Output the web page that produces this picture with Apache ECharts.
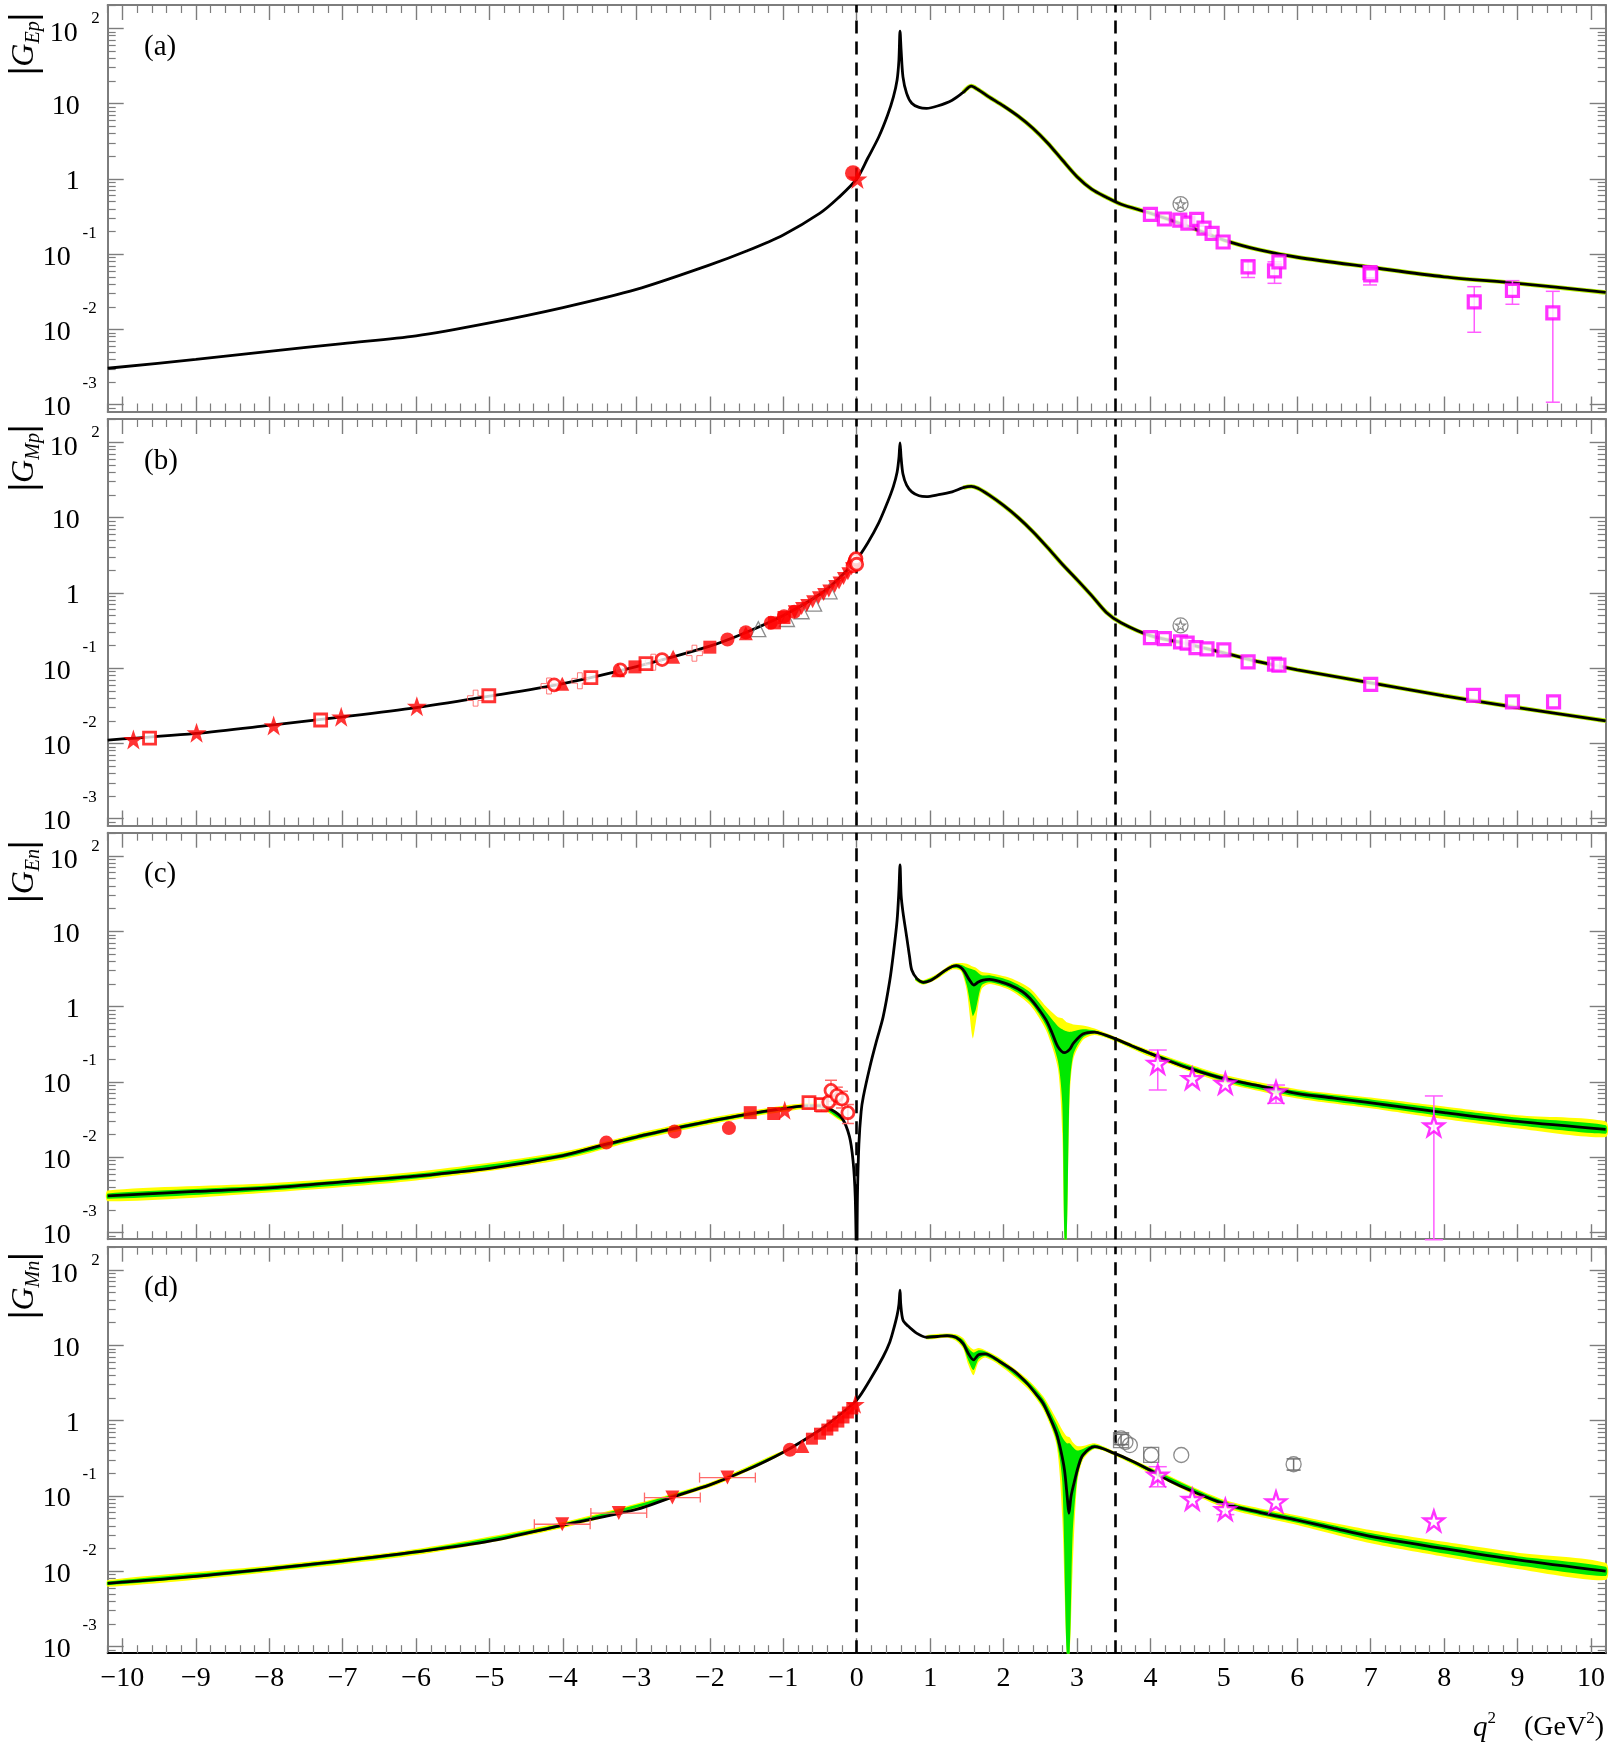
<!DOCTYPE html>
<html>
<head>
<meta charset="utf-8">
<script src="https://cdn.jsdelivr.net/npm/echarts@6/dist/echarts.min.js"></script>
<style>
    html, body { margin: 0; padding: 0; background: #fff; }
    #chart { width: 1611px; height: 1745px; }
</style>
</head>
<body>
<div id="chart"></div>
<script>
var X_MIN = -10.2, X_MAX = 10.2, Y_MIN = -3.09, Y_MAX = 2.31;
var thresholds = [0, 3.52];
var panelLetters = ['(a)', '(b)', '(c)', '(d)'];
var panelSubs = ['Ep', 'Mp', 'En', 'Mn'];
var decades = [-3, -2, -1, 0, 1, 2];

// ---- (a) |G_Ep|
var aCurveX = [-10.2, -9, -8, -7, -6, -5, -4, -3, -2, -1.5, -1, -0.5, -0.25, 0, 0.15, 0.3, 0.42, 0.5, 0.55, 0.575, 0.59, 0.605, 0.63, 0.68, 0.75, 0.85, 0.95, 1.1, 1.3, 1.45, 1.56, 1.65, 1.8, 2.0, 2.2, 2.4, 2.6, 2.8, 3.0, 3.2, 3.4, 3.6, 4.0, 4.5, 5.0, 5.5, 6, 7, 8, 9, 10.2];
var aCurveY = [0.00305, 0.0040, 0.0051, 0.0065, 0.0082, 0.0122, 0.0195, 0.034, 0.072, 0.11, 0.18, 0.35, 0.56, 1.0, 1.88, 3.6, 7.0, 12.3, 20.6, 38, 92, 51, 22.7, 13.7, 10.1, 8.9, 8.65, 9.3, 11.1, 14.1, 17.1, 15.4, 12.3, 9.3, 6.8, 4.7, 3.0, 1.78, 1.07, 0.73, 0.57, 0.46, 0.35, 0.237, 0.154, 0.113, 0.091, 0.067, 0.050, 0.041, 0.031];
var aSqX = [4.00, 4.19, 4.40, 4.51, 4.63, 4.73, 4.84, 4.99, 5.33, 5.69, 5.75, 6.99, 7.00, 8.41, 8.93, 9.48];
var aSqY = [0.338, 0.293, 0.284, 0.259, 0.290, 0.222, 0.189, 0.145, 0.068, 0.060, 0.079, 0.057, 0.053, 0.0232, 0.0331, 0.0166];
var aErrX = [5.33, 5.69, 6.99, 8.41, 8.93, 9.48];
var aErrLo = [0.049, 0.041, 0.039, 0.00917, 0.0216, 0.00108];
var aErrHi = [0.0836, 0.079, 0.068, 0.037, 0.0445, 0.0321];
var aRedCircX = [-0.05], aRedCircY = [1.19];
var aRedStarX = [0.01], aRedStarY = [1.0];
var aGreyX = [4.41], aGreyY = [0.463];

// ---- (b) |G_Mp|
var bCurveX = [-10.2, -9, -8, -7, -6, -5, -4, -3, -2, -1.5, -1, -0.5, -0.25, 0, 0.15, 0.3, 0.42, 0.5, 0.55, 0.575, 0.59, 0.605, 0.63, 0.68, 0.75, 0.85, 0.95, 1.1, 1.3, 1.45, 1.56, 1.65, 1.8, 2.0, 2.2, 2.4, 2.6, 2.8, 3.0, 3.2, 3.4, 3.6, 4.0, 4.5, 5.0, 5.5, 6, 7, 8, 9, 10.2];
var bCurveY = [0.0111, 0.0136, 0.0174, 0.0226, 0.0300, 0.0425, 0.0625, 0.105, 0.196, 0.30, 0.50, 0.96, 1.53, 2.79, 4.6, 8.5, 16, 26, 40, 62, 98, 62, 38, 27, 22, 19.5, 19, 20, 22, 25, 26, 24.5, 20, 14.5, 10, 6.5, 4.0, 2.4, 1.5, 0.92, 0.55, 0.40, 0.27, 0.21, 0.16, 0.12, 0.095, 0.064, 0.043, 0.030, 0.020];
var bSqX = [4.0, 4.19, 4.41, 4.50, 4.62, 4.77, 5.0, 5.33, 5.69, 5.75, 7.0, 8.40, 8.93, 9.49];
var bSqY = [0.255, 0.247, 0.223, 0.215, 0.188, 0.18, 0.175, 0.121, 0.113, 0.11, 0.061, 0.0435, 0.0356, 0.0356];
var bGreyX = [4.41], bGreyY = [0.37];
var bStarX = [-9.85, -8.99, -7.94, -7.02, -5.99], bStarY = [0.0113, 0.0139, 0.0173, 0.0226, 0.0313];
var bOpenSqX = [-9.63, -7.30, -5.01, -3.62, -2.87], bOpenSqY = [0.0118, 0.0205, 0.043, 0.075, 0.115];
var bCrossX = [-5.19, -4.19, -3.77, -2.77, -2.21], bCrossY = [0.040, 0.058, 0.068, 0.12, 0.158];
var bOpenCircX = [-4.12, -3.22, -2.65], bOpenCircY = [0.060, 0.095, 0.130];
var bTriX = [-4.01, -3.25, -2.5, -1.51], bTriY = [0.062, 0.094, 0.142, 0.29];
var bFillSqX = [-3.02, -2.0, -1.12, -0.99], bFillSqY = [0.104, 0.19, 0.40, 0.47];
var bFillCircX = [-1.76, -1.51, -1.17, -0.99, -0.85], bFillCircY = [0.24, 0.30, 0.40, 0.49, 0.56];
var bGreyTriX = [-1.34, -0.95, -0.75, -0.58, -0.37], bGreyTriY = [0.33, 0.45, 0.57, 0.72, 1.05];
var bInvTriX = [-0.85, -0.75, -0.68, -0.6, -0.52, -0.45, -0.38, -0.3, -0.24, -0.18, -0.12, -0.07];
var bInvTriY = [0.56, 0.62, 0.68, 0.76, 0.86, 0.95, 1.06, 1.22, 1.35, 1.55, 1.8, 2.1];
var bRingX = [-0.05, -0.03, -0.02, -0.01, 0.0], bRingY = [2.3, 2.5, 2.7, 2.85, 2.4];

// ---- (c) |G_En|
var cCurveX = [-10.2, -9, -8, -7, -6, -5, -4, -3.4, -3, -2.5, -2, -1.5, -1, -0.7, -0.5, -0.35, -0.2, -0.1, -0.05, -0.02, 0, 0.01, 0.03, 0.06, 0.09, 0.18, 0.27, 0.36, 0.45, 0.5, 0.55, 0.575, 0.59, 0.605, 0.63, 0.68, 0.72, 0.75, 0.82, 0.906, 1.0, 1.09, 1.2, 1.3, 1.36, 1.42, 1.47, 1.53, 1.596, 1.65, 1.72, 1.81, 1.95, 2.09, 2.25, 2.36, 2.47, 2.58, 2.66, 2.74, 2.83, 2.9, 2.95, 3.08, 3.24, 3.38, 3.51, 3.75, 3.99, 4.25, 4.53, 4.99, 5.5, 5.99, 6.5, 6.98, 8, 9, 10.2];
var cCurveY = [0.00305, 0.0035, 0.0039, 0.0047, 0.0056, 0.0071, 0.0105, 0.0150, 0.0185, 0.024, 0.030, 0.037, 0.044, 0.048, 0.048, 0.043, 0.033, 0.019, 0.009, 0.003, 0.0003, 0.003, 0.015, 0.04, 0.0635, 0.159, 0.35, 0.73, 2.2, 5.1, 14, 35, 76, 30, 18, 8.5, 4.6, 3.06, 2.35, 2.1, 2.2, 2.5, 3.0, 3.4, 3.5, 3.3, 2.9, 2.3, 1.93, 2.1, 2.25, 2.3, 2.15, 1.93, 1.6, 1.29, 0.95, 0.66, 0.45, 0.293, 0.244, 0.27, 0.325, 0.433, 0.459, 0.42, 0.378, 0.3, 0.24, 0.19, 0.151, 0.111, 0.088, 0.0705, 0.061, 0.0529, 0.039, 0.0298, 0.0234];
var cBandX = [-10.2, -8, -6, -4, -3, -2, -1, -0.5, -0.2, 0.8, 0.906, 1.09, 1.3, 1.42, 1.5, 1.58, 1.62, 1.7, 1.81, 2.09, 2.36, 2.58, 2.74, 2.8, 2.83, 2.86, 2.9, 2.95, 3.08, 3.24, 3.51, 4.0, 5.0, 6.0, 7.0, 8.0, 9.0, 10.2];
var cYelLo = [0.0026, 0.0034, 0.0049, 0.0093, 0.0166, 0.0272, 0.040, 0.044, 0.030, 2.2, 1.95, 2.3, 3.1, 2.95, 1.6, 0.38, 0.6, 1.7, 2.0, 1.65, 1.05, 0.48, 0.15, 0.02, 1e-5, 1e-5, 0.06, 0.2, 0.36, 0.42, 0.35, 0.215, 0.097, 0.060, 0.0445, 0.032, 0.024, 0.0185];
var cGrnLo = [0.0028, 0.0036, 0.0052, 0.0098, 0.0174, 0.0284, 0.042, 0.046, 0.031, 2.25, 2.0, 2.4, 3.25, 3.1, 1.9, 0.75, 0.9, 1.9, 2.1, 1.75, 1.15, 0.55, 0.19, 0.05, 1e-5, 1e-5, 0.08, 0.23, 0.39, 0.44, 0.36, 0.225, 0.102, 0.064, 0.0475, 0.035, 0.0265, 0.0205];
var cGrnHi = [0.0033, 0.0042, 0.0060, 0.0112, 0.0196, 0.0316, 0.046, 0.050, 0.035, 2.45, 2.2, 2.6, 3.55, 3.6, 3.3, 3.1, 3.0, 2.6, 2.6, 2.2, 1.55, 0.85, 0.55, 0.5, 0.48, 0.47, 0.46, 0.47, 0.5, 0.48, 0.39, 0.25, 0.118, 0.076, 0.0585, 0.044, 0.0335, 0.0265];
var cYelHi = [0.0036, 0.0045, 0.0064, 0.0118, 0.0205, 0.0330, 0.048, 0.052, 0.036, 2.5, 2.25, 2.7, 3.7, 3.8, 3.7, 3.4, 3.3, 2.9, 2.8, 2.4, 1.75, 1.0, 0.72, 0.7, 0.66, 0.62, 0.6, 0.58, 0.56, 0.51, 0.40, 0.26, 0.124, 0.080, 0.062, 0.047, 0.036, 0.0298];
var cStarX = [4.10, 4.57, 5.02, 5.71, 7.86], cStarY = [0.177, 0.111, 0.0955, 0.074, 0.026];
var cStarErrX = [4.10, 5.71, 7.86], cStarErrLo = [0.078, 0.0519, 0.0008], cStarErrHi = [0.265, 0.0908, 0.065];
var cRedCircX = [-3.41, -2.48, -1.74], cRedCircY = [0.0156, 0.0219, 0.0243];
var cRedSqX = [-1.45, -1.13], cRedSqY = [0.039, 0.038];
var cRedStarX = [-0.98], cRedStarY = [0.042];
var cRedOpenSqX = [-0.65, -0.48], cRedOpenSqY = [0.053, 0.05];
var cRedRingX = [-0.38, -0.35, -0.27, -0.2, -0.12], cRedRingY = [0.054, 0.077, 0.066, 0.059, 0.039];
var cRedErrX = [-0.65, -0.48, -0.35, -0.27, -0.2, -0.12];
var cRedErrLo = [0.045, 0.04, 0.055, 0.05, 0.045, 0.028];
var cRedErrHi = [0.062, 0.06, 0.105, 0.085, 0.075, 0.05];

// ---- (d) |G_Mn|
var dCurveX = [-10.2, -9, -8, -7, -6, -5, -4, -3, -2.5, -2, -1.5, -1, -0.5, -0.25, 0, 0.18, 0.36, 0.45, 0.5, 0.55, 0.575, 0.59, 0.6, 0.63, 0.7, 0.82, 0.95, 1.1, 1.23, 1.35, 1.45, 1.52, 1.59, 1.66, 1.75, 1.95, 2.15, 2.32, 2.45, 2.54, 2.63, 2.72, 2.78, 2.83, 2.87, 2.89, 2.92, 2.97, 3.02, 3.08, 3.24, 3.51, 3.75, 3.99, 4.25, 4.53, 4.99, 5.5, 5.99, 6.5, 6.98, 8, 9, 10.2];
var dCurveY = [0.0069, 0.0085, 0.0107, 0.0137, 0.018, 0.025, 0.041, 0.066, 0.097, 0.14, 0.22, 0.38, 0.75, 1.15, 1.87, 3.46, 7.05, 11, 16, 25, 35, 54, 35, 21.7, 18, 14.4, 12.8, 13.1, 13.4, 12.8, 10.5, 7.8, 6.4, 7.5, 7.7, 6.05, 4.5, 3.12, 2.2, 1.69, 1.1, 0.68, 0.4, 0.22, 0.09, 0.0586, 0.1, 0.163, 0.25, 0.349, 0.45, 0.367, 0.29, 0.22, 0.16, 0.12, 0.0796, 0.06, 0.0478, 0.037, 0.0293, 0.0199, 0.0141, 0.0100];
var dBandX = [-10.2, -8, -6, -4, -2, -1, 0.95, 1.23, 1.35, 1.45, 1.52, 1.59, 1.66, 1.75, 1.95, 2.32, 2.54, 2.72, 2.8, 2.86, 2.9, 2.94, 3.0, 3.08, 3.24, 3.51, 4.0, 5.0, 6.0, 7.0, 8.0, 9.0, 10.2];
var dYelLo = [0.0062, 0.0097, 0.0164, 0.0375, 0.13, 0.36, 12, 12.6, 11.5, 9, 5.5, 4.0, 6.0, 6.9, 5.4, 2.7, 1.4, 0.48, 0.05, 1e-5, 1e-5, 0.01, 0.14, 0.3, 0.42, 0.345, 0.2, 0.07, 0.041, 0.0234, 0.0155, 0.0107, 0.0076];
var dGrnLo = [0.0065, 0.0101, 0.0171, 0.039, 0.135, 0.37, 12.3, 13, 12, 9.6, 6.3, 4.7, 6.6, 7.2, 5.7, 2.9, 1.5, 0.55, 0.15, 1e-5, 1e-5, 0.03, 0.16, 0.32, 0.43, 0.355, 0.208, 0.074, 0.044, 0.026, 0.0172, 0.012, 0.0086];
var dGrnHi = [0.0073, 0.0113, 0.0189, 0.043, 0.146, 0.39, 13.3, 13.9, 13.5, 11.8, 9.2, 8.0, 8.6, 8.3, 6.5, 3.4, 1.95, 0.9, 0.6, 0.5, 0.5, 0.45, 0.4, 0.42, 0.48, 0.38, 0.232, 0.085, 0.052, 0.032, 0.0222, 0.0158, 0.0114];
var dYelHi = [0.0076, 0.0118, 0.0197, 0.045, 0.151, 0.40, 13.6, 14.3, 14, 12.5, 10, 8.8, 9.2, 8.6, 6.8, 3.6, 2.1, 1.05, 0.75, 0.62, 0.6, 0.52, 0.46, 0.46, 0.5, 0.39, 0.24, 0.089, 0.055, 0.0352, 0.0245, 0.0176, 0.0129];
var dStarX = [4.10, 4.57, 5.02, 5.71, 7.86], dStarY = [0.189, 0.09, 0.066, 0.0836, 0.0466];
var dStarErrX = [4.10, 5.02], dStarErrLo = [0.132, 0.0563], dStarErrHi = [0.244, 0.078];
var dGreyCircX = [3.6, 3.66, 3.72, 4.01, 4.42, 5.95], dGreyCircY = [0.58, 0.52, 0.473, 0.349, 0.349, 0.263];
var dGreySqX = [3.6, 4.01], dGreySqY = [0.55, 0.35];
var dGreyErrX = [3.6, 5.95], dGreyErrLo = [0.48, 0.22], dGreyErrHi = [0.66, 0.31];
var dInvTriX = [-4.01, -3.24, -2.51, -1.76], dInvTriY = [0.042, 0.059, 0.095, 0.175], dInvTriDx = [0.38, 0.38, 0.38, 0.38];
var dRedCircX = [-0.91], dRedCircY = [0.41];
var dRedTriX = [-0.74], dRedTriY = [0.46];
var dRedSqX = [-0.61, -0.5, -0.4, -0.33, -0.25, -0.18, -0.12, -0.06], dRedSqY = [0.575, 0.67, 0.76, 0.86, 0.97, 1.1, 1.28, 1.45];
var dRedStarX = [-0.02], dRedStarY = [1.65];

// ---- look
var SERIF = '"Liberation Serif", "Times New Roman", serif';
var FRAME = '#7d7d7d';
var RED = '#ff0000', RED_BAR = '#ff6a6a';
var MAG = '#ff00ff', MAG_BAR = '#ff5cff';
var GREY = '#6f6f6f';
var YELLOW = '#ffff00', GREEN = '#00e800';
var GRID_LEFT = 107.7, GRID_W = 1498, GRID_H = 406.5;
var GRID_TOPS = [5, 419, 832.7, 1246.7];
var STAR = 'path://M50,2 L61.8,36.2 L97.6,36.2 L68.6,57.3 L79.4,91.5 L50,70.4 L20.6,91.5 L31.4,57.3 L2.4,36.2 L38.2,36.2 Z';
var CROSS = 'path://M35,0 H65 V35 H100 V65 H65 V100 H35 V65 H0 V35 H35 Z';

var majorX = [], minorX = [], minorY = [];
for (var i = -10; i <= 10; i++) majorX.push(i);
for (var k = -51; k <= 51; k++) if (k % 5 !== 0) minorX.push(+(k * 0.2).toFixed(1));
for (var n = -4; n <= 2; n++) {
    for (var m = 2; m <= 9; m++) {
        var v = n + Math.log10(m);
        if (v > Y_MIN && v < Y_MAX) minorY.push(v);
    }
}

function lg(v) { return Math.max(Math.log10(v), Y_MIN - 0.4); }
function lgBand(v) { return Math.min(Math.max(Math.log10(v), Y_MIN), Y_MAX); }
function pairs(xs, ys) { return xs.map(function (x, i) { return [x, lg(ys[i])]; }); }

// exponent sits on a first (thin) line, mantissa on the second
var yRich = {
    c: {fontFamily: SERIF, fontSize: 28, lineHeight: 28, padding: [6, 20, 0, 0], color: '#000'},
    n: {fontFamily: SERIF, fontSize: 28, lineHeight: 42, padding: [0, 29, 0, 0], color: '#000'},
    s: {fontFamily: SERIF, fontSize: 17, lineHeight: 6, padding: [0, 3, 0, 0], color: '#000'},
    p: {fontFamily: SERIF, fontSize: 28, lineHeight: 20, padding: [0, 22, 0, 0], color: '#000'},
    t: {fontFamily: SERIF, fontSize: 17, lineHeight: 10, color: '#000'}
};
function yLabel(v) {
    var d = Math.round(v);
    if (d === 2) return '{t|2}\n{p|10}';
    if (d === 1) return '{c|10}';
    if (d === 0) return '{c|1}';
    return '{s|' + d + '}\n{n|10}';
}

var xAxes = [], yAxes = [], grids = [], series = [], graphics = [];

GRID_TOPS.forEach(function (top, p) {
    grids.push({left: GRID_LEFT, top: top, width: GRID_W, height: GRID_H});
    ['bottom', 'top'].forEach(function (pos) {
        xAxes.push({
            type: 'value', gridIndex: p, position: pos, min: X_MIN, max: X_MAX,
            axisLine: {show: true, onZero: false, lineStyle: {color: (p === 3 && pos === 'bottom') ? '#000' : FRAME, width: 2}},
            axisTick: {show: true, inside: true, length: 15, customValues: majorX, lineStyle: {color: FRAME, width: 1.4}},
            axisLabel: {
                show: p === 3 && pos === 'bottom', customValues: majorX, margin: 11,
                fontFamily: SERIF, fontSize: 28, color: '#000',
                formatter: function (v) { return v < 0 ? '\u2212' + Math.abs(v) : String(v); }
            },
            splitLine: {show: false}
        });
    });
    ['bottom', 'top'].forEach(function (pos) {
        xAxes.push({
            type: 'value', gridIndex: p, position: pos, min: X_MIN, max: X_MAX,
            axisLine: {show: false, onZero: false},
            axisTick: {show: true, inside: true, length: 8, customValues: minorX, lineStyle: {color: FRAME, width: 1.2}},
            axisLabel: {show: false}, splitLine: {show: false}
        });
    });
    ['left', 'right'].forEach(function (pos) {
        yAxes.push({
            type: 'value', gridIndex: p, position: pos, min: Y_MIN, max: Y_MAX,
            axisLine: {show: true, onZero: false, lineStyle: {color: FRAME, width: 2}},
            axisTick: {show: true, inside: true, length: 16, customValues: decades, lineStyle: {color: FRAME, width: 1.4}},
            axisLabel: {show: pos === 'left', customValues: decades, margin: 8, formatter: yLabel, rich: yRich},
            splitLine: {show: false}
        });
    });
    ['left', 'right'].forEach(function (pos) {
        yAxes.push({
            type: 'value', gridIndex: p, position: pos, min: Y_MIN, max: Y_MAX,
            axisLine: {show: false, onZero: false},
            axisTick: {show: true, inside: true, length: 8, customValues: minorY, lineStyle: {color: FRAME, width: 1.2}},
            axisLabel: {show: false}, splitLine: {show: false}
        });
    });

    graphics.push({
        type: 'text', x: 25, y: top + 39, rotation: Math.PI / 2, silent: true,
        style: {
            text: '{b||}{g|G}{u|' + panelSubs[p] + '}{b||}', align: 'center', verticalAlign: 'middle', fill: '#000',
            rich: {
                b: {fontFamily: SERIF, fontSize: 38, fontWeight: 'bold', lineHeight: 38},
                g: {fontFamily: SERIF, fontSize: 32, fontStyle: 'italic'},
                u: {fontFamily: SERIF, fontSize: 20, fontStyle: 'italic', lineHeight: 20, verticalAlign: 'bottom'}
            }
        }
    });
    graphics.push({
        type: 'text', x: 144, y: top + 42, silent: true,
        style: {text: panelLetters[p], fontFamily: SERIF, fontSize: 29, fill: '#000', verticalAlign: 'middle'}
    });
});

graphics.push({
    type: 'text', x: 1604, y: 1724, silent: true,
    style: {
        text: '{q|q}{e|2}{m|    (GeV}{e|2}{m|)}', align: 'right', verticalAlign: 'middle', fill: '#000',
        rich: {
            q: {fontFamily: SERIF, fontSize: 29, fontStyle: 'italic', lineHeight: 28, padding: [8, 0, 0, 0]},
            e: {fontFamily: SERIF, fontSize: 17, lineHeight: 17, verticalAlign: 'top'},
            m: {fontFamily: SERIF, fontSize: 28, lineHeight: 28, padding: [8, 0, 0, 0]}
        }
    }
});

function withAxes(p, obj) { obj.xAxisIndex = 4 * p; obj.yAxisIndex = 4 * p; return obj; }

// uncertainty band: a polygon through the upper edge and back along the lower edge
function addBand(p, xs, lo, hi, color) {
    [function (x) { return x < 0; }, function (x) { return x > 0; }].forEach(function (side) {
        var rows = [];
        xs.forEach(function (x, i) { if (side(x)) rows.push([x, lgBand(lo[i]), lgBand(hi[i])]); });
        series.push(withAxes(p, {
            type: 'custom', silent: true, z: 1, data: rows, encode: {x: 0, y: [1, 2]},
            renderItem: function (params, api) {
                if (params.dataIndex !== 0) return null;
                var up = rows.map(function (r) { return api.coord([r[0], r[2]]); });
                var dn = rows.map(function (r) { return api.coord([r[0], r[1]]); }).reverse();
                return {type: 'polygon', shape: {points: up.concat(dn), smooth: 0.25}, style: {fill: color}};
            }
        }));
    });
}

function addCurve(p, xs, ys, edge) {
    if (edge) {
        var sel = xs.map(function (x, i) { return i; }).filter(function (i) { return xs[i] >= 1.4; });
        series.push(withAxes(p, {
            type: 'line', silent: true, z: 3, smooth: 0.3, showSymbol: false,
            data: sel.map(function (i) { return [xs[i], lg(ys[i])]; }),
            lineStyle: {color: '#b8f000', width: 4.4}
        }));
    }
    series.push(withAxes(p, {
        type: 'line', silent: true, z: 4, smooth: 0.3, showSymbol: false,
        data: pairs(xs, ys),
        lineStyle: {color: '#000', width: 2.8},
        markLine: {
            silent: true, symbol: ['none', 'none'], label: {show: false}, animation: false,
            lineStyle: {color: '#000', type: [13, 8], width: 2.6},
            data: thresholds.map(function (t) { return {xAxis: t}; })
        }
    }));
}

function addErr(p, xs, lo, hi, color, cap) {
    series.push(withAxes(p, {
        type: 'custom', silent: true, z: 6,
        data: xs.map(function (x, i) { return [x, lg(lo[i]), lg(hi[i])]; }),
        encode: {x: 0, y: [1, 2]},
        renderItem: function (params, api) {
            var a = api.coord([api.value(0), api.value(2)]);
            var b = api.coord([api.value(0), api.value(1)]);
            var st = {stroke: color, lineWidth: 1.5};
            return {type: 'group', children: [
                {type: 'line', shape: {x1: a[0], y1: a[1], x2: b[0], y2: b[1]}, style: st},
                {type: 'line', shape: {x1: a[0] - cap, y1: a[1], x2: a[0] + cap, y2: a[1]}, style: st},
                {type: 'line', shape: {x1: b[0] - cap, y1: b[1], x2: b[0] + cap, y2: b[1]}, style: st}
            ]};
        }
    }));
}

function addXErr(p, xs, ys, dx, color) {
    series.push(withAxes(p, {
        type: 'custom', silent: true, z: 6,
        data: xs.map(function (x, i) { return [x, lg(ys[i]), dx[i]]; }),
        encode: {x: 0, y: 1},
        renderItem: function (params, api) {
            var a = api.coord([api.value(0) - api.value(2), api.value(1)]);
            var b = api.coord([api.value(0) + api.value(2), api.value(1)]);
            var st = {stroke: color, lineWidth: 1.3};
            return {type: 'group', children: [
                {type: 'line', shape: {x1: a[0], y1: a[1], x2: b[0], y2: b[1]}, style: st},
                {type: 'line', shape: {x1: a[0], y1: a[1] - 5, x2: a[0], y2: a[1] + 5}, style: st},
                {type: 'line', shape: {x1: b[0], y1: b[1] - 5, x2: b[0], y2: b[1] + 5}, style: st}
            ]};
        }
    }));
}

function addMarks(p, xs, ys, symbol, size, itemStyle, rotate) {
    series.push(withAxes(p, {
        type: 'scatter', silent: true, z: 8, data: pairs(xs, ys),
        symbol: symbol, symbolSize: size, symbolRotate: rotate || 0, itemStyle: itemStyle
    }));
}

var redFill = {color: RED};
var redOpen = {color: '#fff', borderColor: RED, borderWidth: 2.8};
var magSq = {color: '#fff', borderColor: MAG, borderWidth: 3.2};
var magStar = {color: '#fff', borderColor: MAG, borderWidth: 2.4};
var greyOpen = {color: 'rgba(255,255,255,0)', borderColor: GREY, borderWidth: 1.3};

// (a)
addCurve(0, aCurveX, aCurveY, true);
addErr(0, aErrX, aErrLo, aErrHi, MAG_BAR, 7);
addMarks(0, aSqX, aSqY, 'rect', 12, magSq);
addMarks(0, aGreyX, aGreyY, 'circle', 15, greyOpen);
addMarks(0, aGreyX, aGreyY, STAR, 10, greyOpen);
addMarks(0, aRedCircX, aRedCircY, 'circle', 16, redFill);
addMarks(0, aRedStarX, aRedStarY, STAR, 20, redFill);

// (b)
addCurve(1, bCurveX, bCurveY, true);
addMarks(1, bSqX, bSqY, 'rect', 12, magSq);
addMarks(1, bGreyX, bGreyY, 'circle', 15, greyOpen);
addMarks(1, bGreyX, bGreyY, STAR, 10, greyOpen);
addMarks(1, bCrossX, bCrossY, CROSS, 16, {color: 'rgba(255,255,255,0)', borderColor: '#ff5a5a', borderWidth: 1});
addMarks(1, bGreyTriX, bGreyTriY, 'triangle', 15, greyOpen);
addMarks(1, bStarX, bStarY, STAR, 20, redFill);
addMarks(1, bOpenSqX, bOpenSqY, 'rect', 12, redOpen);
addMarks(1, bOpenCircX, bOpenCircY, 'circle', 12, redOpen);
addMarks(1, bTriX, bTriY, 'triangle', 14, redFill);
addMarks(1, bFillSqX, bFillSqY, 'rect', 13, redFill);
addMarks(1, bFillCircX, bFillCircY, 'circle', 14, redFill);
addMarks(1, bInvTriX, bInvTriY, 'triangle', 13, redFill, 180);
addMarks(1, bRingX, bRingY, 'circle', 12, redOpen);

// (c)
addBand(2, cBandX, cYelLo, cYelHi, YELLOW);
addBand(2, cBandX, cGrnLo, cGrnHi, GREEN);
addCurve(2, cCurveX, cCurveY, false);
addErr(2, cStarErrX, cStarErrLo, cStarErrHi, MAG_BAR, 9);
addErr(2, cRedErrX, cRedErrLo, cRedErrHi, RED_BAR, 6);
addMarks(2, cStarX, cStarY, STAR, 20, magStar);
addMarks(2, cRedCircX, cRedCircY, 'circle', 14, redFill);
addMarks(2, cRedSqX, cRedSqY, 'rect', 13, redFill);
addMarks(2, cRedStarX, cRedStarY, STAR, 19, redFill);
addMarks(2, cRedOpenSqX, cRedOpenSqY, 'rect', 12, redOpen);
addMarks(2, cRedRingX, cRedRingY, 'circle', 12, redOpen);

// (d)
addBand(3, dBandX, dYelLo, dYelHi, YELLOW);
addBand(3, dBandX, dGrnLo, dGrnHi, GREEN);
addCurve(3, dCurveX, dCurveY, false);
addErr(3, dStarErrX, dStarErrLo, dStarErrHi, MAG_BAR, 9);
addErr(3, dGreyErrX, dGreyErrLo, dGreyErrHi, GREY, 7);
addXErr(3, dInvTriX, dInvTriY, dInvTriDx, RED_BAR);
addMarks(3, dGreySqX, dGreySqY, 'rect', 15, greyOpen);
addMarks(3, dGreyCircX, dGreyCircY, 'circle', 15, greyOpen);
addMarks(3, dStarX, dStarY, STAR, 20, magStar);
addMarks(3, dInvTriX, dInvTriY, 'triangle', 14, redFill, 180);
addMarks(3, dRedCircX, dRedCircY, 'circle', 14, redFill);
addMarks(3, dRedTriX, dRedTriY, 'triangle', 14, redFill);
addMarks(3, dRedSqX, dRedSqY, 'rect', 12, redFill);
addMarks(3, dRedStarX, dRedStarY, STAR, 19, redFill);

var chart = echarts.init(document.getElementById('chart'), null, {renderer: 'canvas'});
chart.setOption({
    animation: false,
    backgroundColor: '#fff',
    grid: grids,
    xAxis: xAxes,
    yAxis: yAxes,
    series: series,
    graphic: graphics
});
</script>
</body>
</html>
